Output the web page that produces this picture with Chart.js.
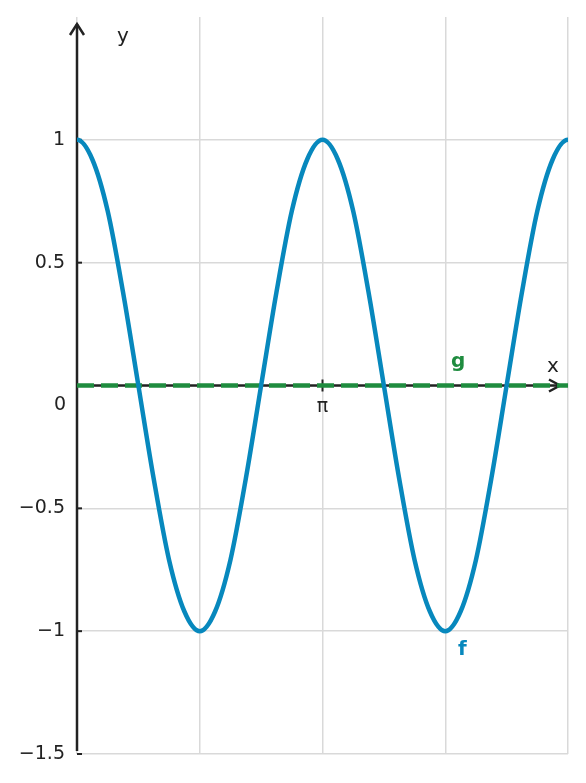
<!DOCTYPE html>
<html>
<head>
<meta charset="utf-8">
<script src="https://cdn.jsdelivr.net/npm/chart.js@4/dist/chart.umd.min.js"></script>
<style>
  html, body { margin: 0; padding: 0; background: #fff; }
  #wrap { width: 586px; height: 783px; position: relative; }
</style>
</head>
<body>
<div id="wrap"><canvas id="chart"></canvas></div>
<script>
// x positions in units of pi (one step past each end so the curve is flat at the edges)
const xs = [-0.0625, 0, 0.0625, 0.125, 0.1875, 0.25, 0.3125, 0.375, 0.4375, 0.5,
            0.5625, 0.625, 0.6875, 0.75, 0.8125, 0.875, 0.9375, 1,
            1.0625, 1.125, 1.1875, 1.25, 1.3125, 1.375, 1.4375, 1.5,
            1.5625, 1.625, 1.6875, 1.75, 1.8125, 1.875, 1.9375, 2, 2.0625];
const fValues = [0.92, 1, 0.92, 0.71, 0.38, 0, -0.38, -0.71, -0.92, -1,
                 -0.92, -0.71, -0.38, 0, 0.38, 0.71, 0.92, 1,
                 0.92, 0.71, 0.38, 0, -0.38, -0.71, -0.92, -1,
                 -0.92, -0.71, -0.38, 0, 0.38, 0.71, 0.92, 1, 0.92];
const gXs = [0, 2];
const gValues = [0, 0];
const yTicks = [-1.5, -1, -0.5, 0, 0.5, 1];
const xTickLabels = { 1: "π" };

const BLUE = "#0788bd";
const GREEN = "#1f8c3f";
const AXIS = "#222";
const FONT = "'DejaVu Sans', sans-serif";

function minus(v) { return String(v).replace("-", "\u2212"); }

const axesPlugin = {
    id: "axes",
    beforeDatasetsDraw(chart) {
        const ctx = chart.ctx;
        const a = chart.chartArea;
        const x = chart.scales.x, y = chart.scales.y;
        const x0 = x.getPixelForValue(0), y0 = y.getPixelForValue(0);
        ctx.save();
        ctx.strokeStyle = AXIS;
        ctx.lineWidth = 2.5;
        ctx.lineCap = "butt";
        // y axis
        ctx.beginPath();
        ctx.moveTo(x0, y.getPixelForValue(-1.5) - 3);
        ctx.lineTo(x0, a.top + 7);
        ctx.stroke();
        ctx.beginPath();
        ctx.moveTo(x0 - 7, a.top + 18);
        ctx.lineTo(x0, a.top + 7);
        ctx.lineTo(x0 + 7, a.top + 18);
        ctx.stroke();
        // x axis
        ctx.beginPath();
        ctx.moveTo(x0, y0);
        ctx.lineTo(a.right - 8, y0);
        ctx.stroke();
        ctx.beginPath();
        ctx.moveTo(a.right - 19, y0 - 6);
        ctx.lineTo(a.right - 8, y0);
        ctx.lineTo(a.right - 19, y0 + 6);
        ctx.stroke();
        // tick marks
        ctx.lineWidth = 2;
        yTicks.forEach(v => {
            if (v === 0) return;
            const p = y.getPixelForValue(v);
            ctx.beginPath();
            ctx.moveTo(x0, p);
            ctx.lineTo(x0 + 5, p);
            ctx.stroke();
        });
        Object.keys(xTickLabels).forEach(k => {
            const p = x.getPixelForValue(Number(k));
            ctx.beginPath();
            ctx.moveTo(p, y0 - 6);
            ctx.lineTo(p, y0 + 6);
            ctx.stroke();
        });
        ctx.restore();
    },
    afterDatasetsDraw(chart) {
        const ctx = chart.ctx;
        const a = chart.chartArea;
        const x = chart.scales.x, y = chart.scales.y;
        const x0 = x.getPixelForValue(0), y0 = y.getPixelForValue(0);
        ctx.save();
        ctx.textAlign = "center";
        ctx.textBaseline = "middle";
        ctx.fillStyle = AXIS;
        ctx.font = "20px " + FONT;
        ctx.fillText("x", a.right - 15, y0 - 19);
        ctx.fillText("y", x0 + 46, a.top + 20);
        ctx.font = "19px " + FONT;
        ctx.textAlign = "right";
        ctx.fillText("0", x0 - 11, y0 + 20);
        ctx.textAlign = "center";
        ctx.font = "bold 20px " + FONT;
        ctx.fillStyle = GREEN;
        ctx.fillText("g", x.getPixelForValue(1.5) + 13, y0 - 24);
        ctx.fillStyle = BLUE;
        ctx.fillText("f", x.getPixelForValue(1.5) + 17, y.getPixelForValue(-1) + 19);
        ctx.restore();
    }
};

new Chart(document.getElementById("chart"), {
    type: "line",
    data: {
        datasets: [{
            label: "f",
            data: xs.map((v, i) => ({ x: v, y: fValues[i] })),
            borderColor: BLUE,
            borderWidth: 4.5,
            pointRadius: 0,
            cubicInterpolationMode: "monotone",
            fill: false
        }, {
            label: "g",
            data: gXs.map((v, i) => ({ x: v, y: gValues[i] })),
            borderColor: GREEN,
            borderWidth: 4.5,
            borderDash: [17, 7],
            pointRadius: 0,
            fill: false
        }]
    },
    options: {
        responsive: true,
        maintainAspectRatio: false,
        animation: false,
        layout: { padding: { top: 17, right: 18, bottom: 29, left: 0 } },
        plugins: { legend: { display: false }, tooltip: { enabled: false } },
        scales: {
            x: {
                type: "linear",
                position: { y: 0 },
                min: 0,
                max: 2,
                border: { display: false },
                grid: { color: "#d9d9d9", lineWidth: 1.5, drawTicks: false },
                ticks: {
                    stepSize: 0.5,
                    autoSkip: false,
                    maxRotation: 0,
                    padding: 10,
                    color: AXIS,
                    font: { family: FONT, size: 19 },
                    callback: v => xTickLabels[v] || ""
                }
            },
            y: {
                type: "linear",
                position: "left",
                min: -1.5,
                max: 1.5,
                border: { display: false },
                afterFit: s => { s.width = 77; s.paddingTop = 0; s.paddingBottom = 0; },
                grid: {
                    color: c => (c.tick && c.tick.value === 1.5) ? "rgba(0,0,0,0)" : "#d9d9d9",
                    lineWidth: 1.5,
                    drawTicks: false
                },
                ticks: {
                    stepSize: 0.5,
                    padding: 12,
                    color: AXIS,
                    font: { family: FONT, size: 19 },
                    callback: v => (v === 0 || v === 1.5) ? "" : minus(v)
                }
            }
        }
    },
    plugins: [axesPlugin]
});
</script>
</body>
</html>
